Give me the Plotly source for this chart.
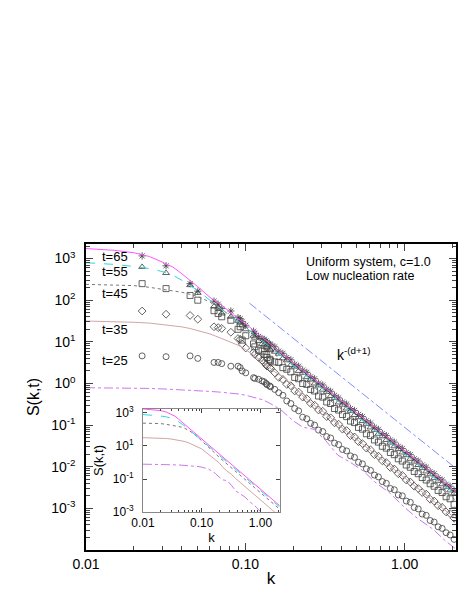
import plotly.graph_objects as go

# wavenumbers of the simulated S(k,t) points (shared by all times)
K = [0.0225, 0.0318, 0.0450, 0.0503, 0.0636, 0.0675, 0.0711, 0.0811, 0.0900, 0.0928,
     0.0955, 0.1006, 0.1125, 0.1147, 0.1211, 0.1273, 0.1312, 0.1350, 0.1369, 0.1423,
     0.1440, 0.153, 0.162, 0.172, 0.182, 0.193, 0.204, 0.216, 0.229, 0.243,
     0.257, 0.272, 0.288, 0.306, 0.324, 0.343, 0.363, 0.385, 0.407, 0.432,
     0.457, 0.484, 0.513, 0.543, 0.575, 0.610, 0.646, 0.684, 0.724, 0.767,
     0.813, 0.861, 0.912, 0.966, 1.023, 1.084, 1.148, 1.216, 1.288, 1.365,
     1.445, 1.531, 1.622, 1.718, 1.820, 1.928, 2.042]

S_T65 = [1160, 670, 250, 165, 95, 80, 63, 55, 38, 36, 31, 25, 18, 16, 13.5, 12, 11.5, 10.5, 9.6, 8.9,
         8.5, 7.6, 6.0, 5.3, 4.2, 3.7, 2.9, 2.6, 2.1, 1.85, 1.45, 1.3, 1.02, 0.92, 0.73, 0.65, 0.52,
         0.45, 0.36, 0.32, 0.25, 0.225, 0.18, 0.16, 0.127, 0.112, 0.089, 0.079, 0.063, 0.056, 0.044,
         0.039, 0.031, 0.0275, 0.022, 0.0195, 0.0155, 0.0137, 0.011, 0.0097, 0.0077, 0.0068, 0.0055,
         0.0048, 0.0038, 0.0034, 0.0027]
S_T55 = [630, 450, 230, 150, 71, 66, 48, 40, 32, 29, 25, 20, 14, 12.6, 10.5, 8.9, 8.5, 7.6, 7.2, 6.6,
         6.3, 5.8, 5.2, 4.0, 3.6, 2.8, 2.55, 2.0, 1.8, 1.42, 1.25, 1.0, 0.9, 0.71, 0.63, 0.5, 0.45,
         0.35, 0.31, 0.25, 0.22, 0.175, 0.155, 0.125, 0.108, 0.088, 0.077, 0.062, 0.054, 0.044, 0.038,
         0.031, 0.0265, 0.022, 0.019, 0.0155, 0.0133, 0.011, 0.0094, 0.0077, 0.0066, 0.0054, 0.0046,
         0.0038, 0.0033, 0.0027, 0.0023]
S_T45 = [250, 190, 130, 100, 56, 48, 40, 33, 20, 23, 11, 14, 8.9, 7.6, 6.3, 6.0, 5.0, 5.0, 4.2, 3.8,
         3.5, 3.3, 3.2, 2.4, 2.2, 1.9, 1.4, 1.3, 1.0, 0.95, 0.72, 0.66, 0.5, 0.47, 0.36, 0.33, 0.25,
         0.23, 0.18, 0.16, 0.125, 0.115, 0.088, 0.08, 0.062, 0.056, 0.044, 0.039, 0.031, 0.028, 0.022,
         0.0195, 0.0155, 0.0137, 0.011, 0.0097, 0.0077, 0.0068, 0.0055, 0.0048, 0.0039, 0.0034, 0.0027,
         0.0024, 0.0019, 0.0017, 0.00125]
S_T35 = [55, 46, 43, 35, 23, 22, 21, 17, 12, 11.5, 8.9, 7.1, 5.6, 5.0, 4.2, 3.6, 3.2, 2.8, 2.6, 2.4,
         2.3, 1.8, 1.4, 1.25, 0.95, 0.88, 0.66, 0.62, 0.47, 0.43, 0.33, 0.30, 0.23, 0.215, 0.16, 0.15,
         0.113, 0.105, 0.08, 0.074, 0.056, 0.052, 0.04, 0.036, 0.028, 0.0255, 0.0195, 0.018, 0.0138,
         0.0126, 0.0096, 0.0088, 0.0068, 0.0062, 0.0048, 0.0043, 0.0034, 0.003, 0.0024, 0.0022, 0.00165,
         0.0015, 0.00116, 0.00106, 0.00082, 0.00075, 0.00058]
S_T25 = [4.6, 4.4, 4.6, 4.0, 3.2, 3.2, 3.0, 2.6, 2.6, 2.4, 2.0, 1.8, 1.38, 1.32, 1.26, 1.15, 1.1, 1.0,
         0.93, 0.87, 0.83, 0.72, 0.60, 0.52, 0.38, 0.33, 0.25, 0.22, 0.155, 0.142, 0.11, 0.10, 0.076,
         0.07, 0.053, 0.049, 0.037, 0.034, 0.026, 0.024, 0.0182, 0.0168, 0.0128, 0.0117, 0.0089, 0.0082,
         0.0063, 0.0057, 0.0044, 0.004, 0.003, 0.0028, 0.0021, 0.002, 0.0015, 0.0014, 0.00105, 0.00097,
         0.00073, 0.00068, 0.00051, 0.00047, 0.00036, 0.00033, 0.00026, 0.00023, 0.00018]

# theory curves
LK = [0.01, 0.015, 0.02, 0.025, 0.03, 0.035, 0.04, 0.045, 0.05, 0.06, 0.07, 0.08, 0.09, 0.10, 0.115,
      0.13, 0.15, 0.17, 0.2, 0.23, 0.27, 0.32, 0.38, 0.45, 0.55, 0.65, 0.8, 1.0, 1.2, 1.5, 1.8, 2.1]
L_T65 = [1740, 1580, 1380, 1120, 830, 630, 430, 300, 214, 117, 79, 52, 36, 27.5, 17.4, 12, 7.8, 5.1,
         3.2, 2.1, 1.30, 0.77, 0.457, 0.274, 0.149, 0.0893, 0.0476, 0.0242, 0.0139, 0.00705, 0.00405, 0.00254]
L_T55 = [794, 725, 645, 575, 490, 400, 300, 230, 174, 100, 62, 42, 31, 23, 14.5, 10, 6.5, 4.3,
         2.6, 1.74, 1.07, 0.64, 0.378, 0.226, 0.123, 0.0738, 0.0394, 0.020, 0.0115, 0.00582, 0.00335, 0.00209]
L_T45 = [240, 234, 224, 204, 186, 170, 155, 138, 123, 91, 63, 43, 29.5, 21.4, 13.2, 8.7, 5.5, 3.5,
         2.0, 1.29, 0.79, 0.473, 0.280, 0.168, 0.0912, 0.0547, 0.0292, 0.0148, 0.0085, 0.00432, 0.00248, 0.00155]
L_T35 = [31.6, 31, 29.5, 28.2, 26.3, 24.5, 22.9, 20.9, 19, 15.5, 12.3, 10, 8.3, 6.6, 4.4, 3.2, 2.0, 1.48,
         0.91, 0.50, 0.30, 0.19, 0.105, 0.063, 0.034, 0.020, 0.0107, 0.0054, 0.0031, 0.00155, 0.00089, 0.00056]
L_T25 = [0.79, 0.785, 0.776, 0.76, 0.74, 0.724, 0.71, 0.69, 0.676, 0.645, 0.617, 0.59, 0.56, 0.525,
         0.457, 0.40, 0.30, 0.22, 0.126, 0.089, 0.079, 0.042, 0.019, 0.0132, 0.0079, 0.0043, 0.0024,
         0.00105, 0.00058, 0.00032, 0.000166, 0.000105]

# k^-(d+1) guide line
K_REF = [0.106, 2.1]
S_REF = [85, 0.0091]

Y_TICKS = [1e-3, 1e-2, 1e-1, 1, 10, 100, 1000]
Y_TEXT = ["10<sup>-3</sup>", "10<sup>-2</sup>", "10<sup>-1</sup>", "10<sup>0</sup>",
          "10<sup>1</sup>", "10<sup>2</sup>", "10<sup>3</sup>"]
Y2_TICKS = [1e-3, 1e-1, 10, 1000]
Y2_TEXT = ["10<sup>-3</sup>", "10<sup>-1</sup>", "10<sup>1</sup>", "10<sup>3</sup>"]

FONT = "Liberation Sans, Arial, sans-serif"

fig = go.Figure()

marker_sets = [(S_T25, "circle-open", 6), (S_T35, "diamond-open", 6), (S_T45, "square-open", 6),
               (S_T55, "triangle-up-open", 6), (S_T65, "asterisk-open", 6)]
for s, sym, size in marker_sets:
    fig.add_trace(go.Scatter(x=K, y=s, mode="markers",
                             marker=dict(symbol=sym, size=size, color="#3c3c3c",
                                         line=dict(width=0.8, color="#3c3c3c"))))

line_sets = [(L_T25, "#cc77ee", "dashdot"), (L_T35, "#cfa6a6", "solid"),
             (L_T45, "#777777", "dot"), (L_T55, "#33d6d6", "dash"), (L_T65, "#ff55ff", "solid")]
for s, col, dash in line_sets:
    fig.add_trace(go.Scatter(x=LK, y=s, mode="lines", line=dict(color=col, width=1, dash=dash)))

fig.add_trace(go.Scatter(x=K_REF, y=S_REF, mode="lines",
                         line=dict(color="#7f8cff", width=1, dash="dashdot")))

# inset: theory curves only
for s, col, dash in line_sets:
    fig.add_trace(go.Scatter(x=LK, y=s, mode="lines", xaxis="x2", yaxis="y2",
                             line=dict(color=col, width=1, dash=dash)))

minor_x = [m * 10 ** e for e in (-2, -1) for m in range(2, 10)] + [2.0]
minor_y = [m * 10.0 ** e for e in range(-5, 4) for m in range(2, 10)]

fig.update_layout(
    width=471, height=610,
    margin=dict(l=78, r=23, t=236, b=68),
    paper_bgcolor="white", plot_bgcolor="white",
    showlegend=False,
    font=dict(family=FONT, size=14, color="black"),
    xaxis=dict(type="log", range=[-2, 0.322], tickvals=[0.01, 0.1, 1],
               ticktext=["0.01", "0.10", "1.00"], ticks="inside", ticklen=7,
               showline=True, linecolor="black", linewidth=1.5, mirror="ticks",
               showgrid=False, zeroline=False, tickfont=dict(size=14),
               minor=dict(tickvals=minor_x, ticks="inside", ticklen=4, showgrid=False),
               title=dict(text="k", font=dict(size=17), standoff=2)),
    yaxis=dict(type="log", range=[-4.0, 3.35], tickvals=Y_TICKS, ticktext=Y_TEXT,
               ticks="inside", ticklen=7, showline=True, linecolor="black", linewidth=1.5,
               mirror="ticks", showgrid=False, zeroline=False, tickfont=dict(size=14),
               ticklabelstandoff=6,
               minor=dict(tickvals=minor_y, ticks="inside", ticklen=4, showgrid=False),
               title=dict(text="S(k,t)", font=dict(size=16), standoff=8)),
    xaxis2=dict(type="log", domain=[0.154, 0.524], anchor="y2", range=[-2, 0.33],
                tickvals=[0.01, 0.1, 1], ticktext=["0.01", "0.10", "1.00"],
                ticks="inside", ticklen=4, showline=True, linecolor="#888888", linewidth=1,
                mirror="ticks", showgrid=False, zeroline=False, tickfont=dict(size=12),
                minor=dict(tickvals=minor_x, ticks="inside", ticklen=2, showgrid=False),
                title=dict(text="k", font=dict(size=13), standoff=0)),
    yaxis2=dict(type="log", domain=[0.124, 0.461], anchor="x2", range=[-3, 3.24],
                tickvals=Y2_TICKS, ticktext=Y2_TEXT, ticklabelstandoff=6,
                ticks="inside", ticklen=4, showline=True, linecolor="#888888", linewidth=1,
                mirror="ticks", showgrid=False, zeroline=False, tickfont=dict(size=12),
                title=dict(text="S(k,t)", font=dict(size=13), standoff=6)),
)

labels = [("t=65", 3.05), ("t=55", 2.68), ("t=45", 2.15), ("t=35", 1.30), ("t=25", 0.54)]
for txt, ly in labels:
    fig.add_annotation(x=-1.82, y=ly, xref="x", yref="y", text=txt, showarrow=False,
                       font=dict(size=13))

fig.add_annotation(x=-0.63, y=2.92, xref="x", yref="y", text="Uniform system, c=1.0",
                   showarrow=False, xanchor="left", font=dict(size=12.5))
fig.add_annotation(x=-0.63, y=2.59, xref="x", yref="y", text="Low nucleation rate",
                   showarrow=False, xanchor="left", font=dict(size=12.5))
fig.add_annotation(x=-0.44, y=0.71, xref="x", yref="y", text="k<sup>-(d+1)</sup>",
                   showarrow=False, xanchor="left", font=dict(size=14))

fig.write_html("out.html")
